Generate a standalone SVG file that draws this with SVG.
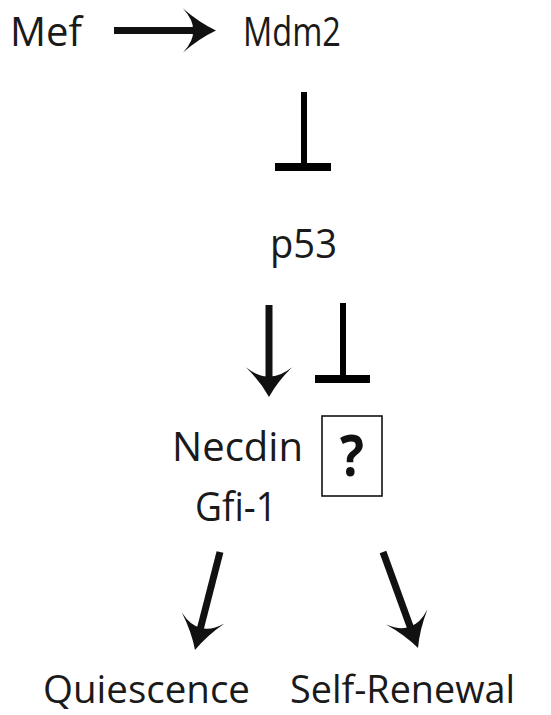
<svg xmlns="http://www.w3.org/2000/svg" width="551" height="715" viewBox="0 0 551 715">
  <style>
    .lbl { font-family: "Open Sans", "Noto Sans", "Liberation Sans", sans-serif; font-size: 41px; fill: #1a1a1a; }
    .low { font-size: 39px; }
    .q { font-family: "Open Sans", "Liberation Sans", sans-serif; font-size: 58px; font-weight: bold; fill: #111; }
    .shaft { stroke: #111; stroke-width: 7; fill: none; }
    .inh { stroke: #000; fill: none; }
    .head { fill: #111; }
  </style>
  <defs>
    <!-- concave arrowhead, tip at origin, pointing along +x -->
    <path id="ah" class="head" d="M0,0 Q-17,-8 -33,-22 Q-22,-10 -23,0 Q-22,10 -33,22 Q-17,8 0,0 Z"/>
  </defs>
  <rect width="551" height="715" fill="#fff"/>

  <g id="mef"><text class="lbl" x="10" y="46" textLength="72" lengthAdjust="spacingAndGlyphs">Mef</text></g>
  <g id="mdm2"><text class="lbl" x="243" y="46" textLength="98" lengthAdjust="spacingAndGlyphs">Mdm2</text></g>
  <g id="p53"><text class="lbl" x="270" y="258" textLength="67" lengthAdjust="spacingAndGlyphs">p53</text></g>
  <g id="necdin-gfi1">
    <text class="lbl" x="172" y="461" textLength="131" lengthAdjust="spacingAndGlyphs">Necdin</text>
    <text class="lbl" x="195" y="521" textLength="82" lengthAdjust="spacingAndGlyphs">Gfi-1</text>
  </g>
  <g id="unknown">
    <rect x="322" y="416" width="60" height="80" fill="none" stroke="#111" stroke-width="1.6"/>
    <text class="q" x="352" y="476" text-anchor="middle" textLength="24" lengthAdjust="spacingAndGlyphs">?</text>
  </g>
  <g id="quiescence"><text class="lbl low" x="43" y="703" textLength="207" lengthAdjust="spacingAndGlyphs">Quiescence</text></g>
  <g id="self-renewal"><text class="lbl low" x="290" y="703" textLength="225" lengthAdjust="spacingAndGlyphs">Self-Renewal</text></g>

  <g id="connectors">
    <!-- Mef activates Mdm2 -->
    <line class="shaft" x1="114" y1="30.5" x2="194" y2="30.5"/>
    <use href="#ah" transform="translate(216,30.5)"/>
    <!-- Mdm2 inhibits p53 -->
    <line class="inh" x1="304" y1="92" x2="304" y2="167" stroke-width="6"/>
    <line class="inh" x1="275" y1="167" x2="331" y2="167" stroke-width="8"/>
    <!-- p53 activates Necdin / Gfi-1 -->
    <line class="shaft" x1="269" y1="305" x2="269" y2="377"/>
    <use href="#ah" transform="translate(269,397) rotate(90) scale(0.9,1.05)"/>
    <!-- p53 inhibits unknown factor -->
    <line class="inh" x1="343" y1="303" x2="343" y2="379" stroke-width="6"/>
    <line class="inh" x1="315" y1="379" x2="370" y2="379" stroke-width="8"/>
    <!-- to Quiescence -->
    <line class="shaft" x1="220" y1="552" x2="200" y2="630"/>
    <use href="#ah" transform="translate(195,650) rotate(104.3)"/>
    <!-- to Self-Renewal -->
    <line class="shaft" x1="383" y1="552" x2="411" y2="629"/>
    <use href="#ah" transform="translate(418,648) rotate(70)"/>
  </g>
</svg>
